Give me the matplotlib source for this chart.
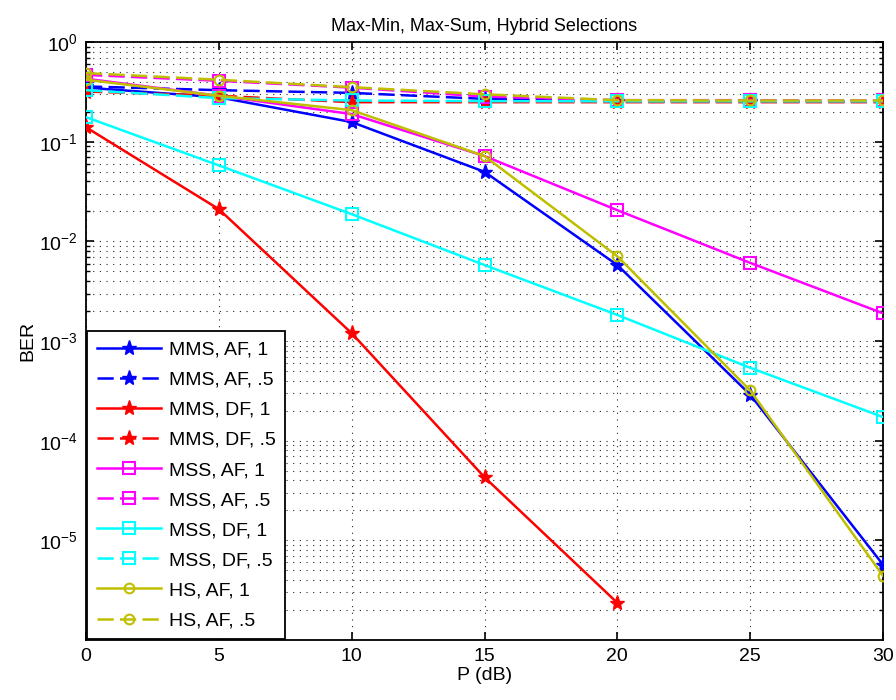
import matplotlib
matplotlib.use("Agg")
import matplotlib.pyplot as plt
from matplotlib.ticker import LogLocator, NullFormatter, FixedLocator

plt.rcParams['font.family'] = ['Liberation Sans', 'DejaVu Sans']
plt.rcParams['mathtext.fontset'] = 'custom'
plt.rcParams['mathtext.rm'] = 'Liberation Sans'

P_dB = [0, 5, 10, 15, 20, 25, 30]

mms_af_1 = [0.35, 0.28, 0.158, 0.050, 0.0058, 2.9e-4, 5.7e-6]
mms_af_05 = [0.36, 0.33, 0.31, 0.27, 0.255, 0.255, 0.255]
mms_df_1 = [0.14, 0.0211, 1.2e-3, 4.3e-5, 2.36e-6]
mms_df_05 = [0.32, 0.29, 0.25, 0.25, 0.25, 0.25, 0.25]
mss_af_1 = [0.43, 0.29, 0.19, 0.072, 0.0206, 6.1e-3, 1.9e-3]
mss_af_05 = [0.47, 0.41, 0.35, 0.285, 0.262, 0.262, 0.26]
mss_df_1 = [0.177, 0.058, 0.0188, 5.8e-3, 1.83e-3, 5.4e-4, 1.73e-4]
mss_df_05 = [0.33, 0.275, 0.26, 0.256, 0.255, 0.255, 0.255]
hs_af_1 = [0.42, 0.29, 0.208, 0.072, 7.1e-3, 3.2e-4, 4.4e-6]
hs_af_05 = [0.49, 0.42, 0.354, 0.30, 0.262, 0.26, 0.26]

labels = ['MMS, AF, 1', 'MMS, AF, .5', 'MMS, DF, 1', 'MMS, DF, .5',
          'MSS, AF, 1', 'MSS, AF, .5', 'MSS, DF, 1', 'MSS, DF, .5',
          'HS, AF, 1', 'HS, AF, .5']
series = [mms_af_1, mms_af_05, mms_df_1, mms_df_05,
          mss_af_1, mss_af_05, mss_df_1, mss_df_05,
          hs_af_1, hs_af_05]
colors = ['#0000FF', '#0000FF', '#FF0000', '#FF0000',
          '#FF00FF', '#FF00FF', '#00FFFF', '#00FFFF',
          '#BFBF00', '#BFBF00']
markers = ['*', '*', '*', '*', 's', 's', 's', 's', 'o', 'o']
dashed = [False, True] * 5

fig = plt.figure(figsize=(8.96, 7.0), dpi=100)
ax = fig.add_axes([0.096, 0.0857, 0.8895, 0.854])

for y, lab, c, m, d in zip(series, labels, colors, markers, dashed):
    x = P_dB[:len(y)]
    if m == '*':
        kw = dict(marker='*', markersize=11, markerfacecolor=c, markeredgecolor=c)
    elif m == 's':
        kw = dict(marker='s', markersize=9, markerfacecolor='none', markeredgecolor=c, markeredgewidth=1.5)
    else:
        kw = dict(marker='o', markersize=7, markerfacecolor='none', markeredgecolor=c, markeredgewidth=1.5)
    line, = ax.plot(x, y, color=c, linewidth=1.8, label=lab, zorder=3, **kw)
    if d:
        line.set_dashes((6.5, 2.5))

ax.set_yscale('log')
ax.set_xlim(0, 30)
ax.set_ylim(1e-6, 1)
ax.set_xticks([0, 5, 10, 15, 20, 25, 30])
ax.yaxis.set_major_locator(FixedLocator([1e-5, 1e-4, 1e-3, 1e-2, 1e-1, 1e0]))
ax.yaxis.set_minor_locator(LogLocator(base=10, subs=[2, 3, 4, 5, 6, 7, 8, 9], numticks=20))
ax.yaxis.set_minor_formatter(NullFormatter())

grid_kw = dict(color='black', linewidth=0.8, linestyle=(0, (1, 5)), alpha=0.85)
ax.grid(True, which='major', axis='both', **grid_kw)
ax.grid(True, which='minor', axis='y', **grid_kw)
ax.set_axisbelow(True)

ax.tick_params(which='major', direction='in', length=6, width=1.2, top=True, right=True,
               labelsize=14, colors='black', pad=6)
ax.tick_params(which='minor', direction='in', length=3, width=1.0, top=True, right=True)
for s in ax.spines.values():
    s.set_linewidth(1.3)

ax.set_xlabel('P (dB)', fontsize=14, labelpad=1)
ax.set_ylabel('BER', fontsize=14, labelpad=2)
ax.set_title('Max-Min, Max-Sum, Hybrid Selections', fontsize=13, pad=8)

leg = ax.legend(loc='lower left', fontsize=14, frameon=True, fancybox=False,
                borderaxespad=0.05, handlelength=3.3, labelspacing=0.64,
                handletextpad=0.4, borderpad=0.5)
leg.get_frame().set_edgecolor('black')
leg.get_frame().set_linewidth(1.3)
leg.get_frame().set_alpha(1)

fig.savefig('out.png', dpi=100)
